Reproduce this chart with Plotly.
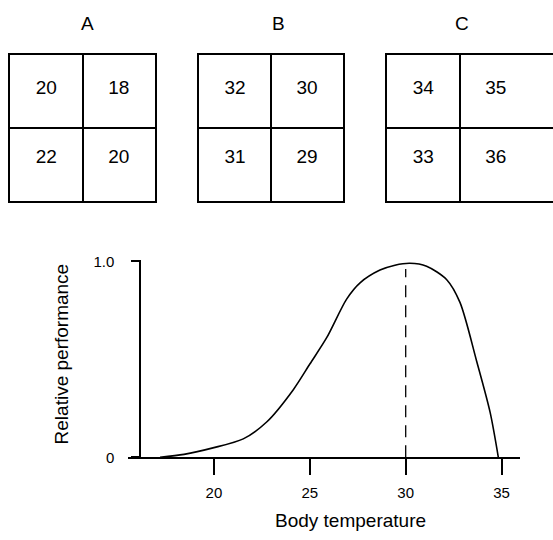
import plotly.graph_objects as go

# ---- data ----
grid_labels = ["A", "B", "C"]
grid_values = {
    "A": [20, 18, 22, 20],
    "B": [32, 30, 31, 29],
    "C": [34, 35, 33, 36],
}

temp = [17.19, 18.44, 19.95, 21.53, 22.75, 24.14, 25.01, 25.88, 26.92, 27.62,
        28.66, 29.44, 30.22, 31.09, 32.14, 32.83, 33.70, 34.40, 34.83]
perf = [0.0, 0.015, 0.048, 0.094, 0.18, 0.345, 0.477, 0.61, 0.807, 0.89,
        0.955, 0.98, 0.99, 0.975, 0.906, 0.79, 0.49, 0.23, 0.0]
optimum = 30
opt_perf = 0.96
x_ticks = [20, 25, 30, 35]
y_ticks = [0, 1]
y_ticktext = ["0", "1.0"]

# ---- layout helpers (positions / styles) ----
cell_x = [0.5, 1.5, 0.5, 1.5]
cell_y = [1.52, 1.52, 0.59, 0.59]
label_px = {"A": 87, "B": 278, "C": 462}

W, H = 553, 540
FONT = "Liberation Sans, Arial, sans-serif"

def px(x):
    return x / W

def py(y):
    return 1 - y / H

fig = go.Figure()

# ---- main curve ----
fig.add_trace(go.Scatter(x=temp, y=perf, mode="lines",
                         line=dict(color="black", width=1.6, shape="spline", smoothing=0.8),
                         xaxis="x", yaxis="y", hoverinfo="skip", showlegend=False))
fig.add_trace(go.Scatter(x=[optimum, optimum], y=[0, opt_perf], mode="lines",
                         line=dict(color="black", width=1.3, dash="12px,8px"),
                         xaxis="x", yaxis="y", hoverinfo="skip", showlegend=False))

# ---- grids ----
grid_domains = {
    "A": ([px(10), px(155)], [0, 2]),
    "B": ([px(199), px(343)], [0, 2]),
    "C": ([px(387), 1.0], [0, 166 / 72.5]),
}
layout_axes = {}
annotations = []
for i, lab in enumerate(grid_labels, start=2):
    dom, xr = grid_domains[lab]
    vals = grid_values[lab]
    fig.add_trace(go.Scatter(x=cell_x, y=cell_y, mode="text",
                             text=[str(v) for v in vals],
                             textfont=dict(family=FONT, size=19, color="black"),
                             xaxis=f"x{i}", yaxis=f"y{i}", hoverinfo="skip",
                             showlegend=False))
    layout_axes[f"xaxis{i}"] = dict(domain=dom, range=xr, anchor=f"y{i}",
                                    showline=True, mirror=True, linecolor="black",
                                    linewidth=1.5, tickvals=[1], showticklabels=False,
                                    ticks="", showgrid=True, gridcolor="black",
                                    gridwidth=1.5, zeroline=False, fixedrange=True)
    layout_axes[f"yaxis{i}"] = dict(domain=[py(199), py(48)], range=[0, 2],
                                    anchor=f"x{i}", showline=True,
                                    mirror=(lab != "C"), linecolor="black",
                                    linewidth=1.5, tickvals=[1], showticklabels=False,
                                    ticks="", showgrid=True, gridcolor="black",
                                    gridwidth=1.5, zeroline=False, fixedrange=True)
    annotations.append(dict(text=lab, xref="paper", yref="paper",
                            x=px(label_px[lab]), y=py(16),
                            xanchor="center", yanchor="middle",
                            showarrow=False,
                            font=dict(family=FONT, size=19, color="black")))

annotations.append(dict(text="Relative performance", xref="paper", yref="paper",
                        x=px(61), y=py(357), textangle=-90, showarrow=False,
                        xanchor="center", yanchor="middle",
                        font=dict(family=FONT, size=19, color="black")))
annotations.append(dict(text="Body temperature", xref="paper", yref="paper",
                        x=px(350), y=py(528), showarrow=False,
                        xanchor="center", yanchor="middle",
                        font=dict(family=FONT, size=19, color="black")))

fig.update_layout(
    width=W, height=H,
    margin=dict(l=0, r=0, t=0, b=0, pad=0),
    paper_bgcolor="white", plot_bgcolor="rgba(0,0,0,0)",
    showlegend=False,
    xaxis=dict(domain=[px(128), px(520)], range=[15.52, 35.96], anchor="y",
               showline=True, linecolor="black", linewidth=1.5,
               tickvals=x_ticks, ticks="outside", ticklen=16, tickwidth=1.5,
               tickcolor="black", ticklabelstandoff=5,
               tickfont=dict(family=FONT, size=15, color="black"),
               showgrid=False, zeroline=False, fixedrange=True),
    yaxis=dict(domain=[py(463), py(260)], range=[0, 1.005], anchor="free",
               position=px(140), showline=True, linecolor="black", linewidth=1.5,
               tickvals=y_ticks, ticktext=y_ticktext, ticks="outside", ticklen=8,
               tickwidth=1.5, tickcolor="black", ticklabelstandoff=14,
               tickfont=dict(family=FONT, size=15, color="black"),
               showgrid=False, zeroline=False, fixedrange=True),
    annotations=annotations,
    **layout_axes,
)

fig.write_html("out.html", config={"displayModeBar": False},
               post_script="document.body.style.margin='0';document.body.style.overflow='hidden';")
